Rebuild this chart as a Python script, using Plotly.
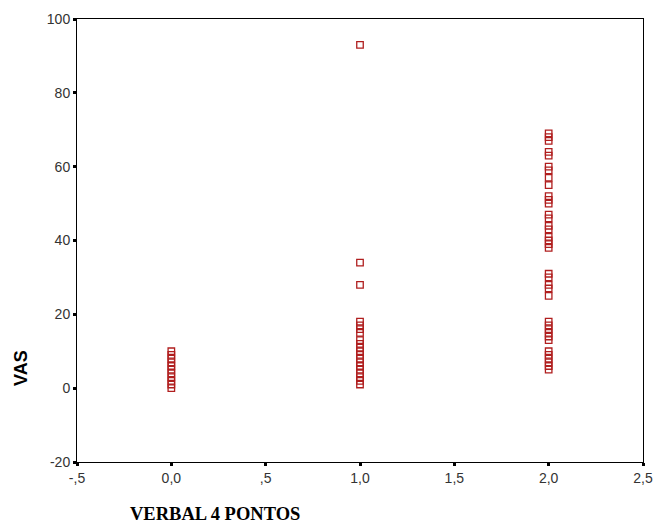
import plotly.graph_objects as go

# Data
x0_vals = [0.0] * 11
y0_vals = [0, 1, 2, 3, 4, 5, 6, 7, 8, 9, 10]

y1_vals = [93, 34, 28, 18, 17, 16, 15, 13, 12, 11, 10, 9, 8, 7, 6, 5, 4, 3, 2, 1]
x1_vals = [1.0] * len(y1_vals)

y2_vals = [69, 68, 67, 64, 63, 60, 59, 57, 55, 52, 51, 50, 47, 46, 44, 43, 41, 40,
           39, 38, 31, 30, 28, 27, 25, 18, 17, 16, 15, 14, 13, 10, 9, 8, 7, 6, 5]
x2_vals = [2.0] * len(y2_vals)

x_tickvals = [-0.5, 0.0, 0.5, 1.0, 1.5, 2.0, 2.5]
x_ticktext = ["-,5", "0,0", ",5", "1,0", "1,5", "2,0", "2,5"]
y_tickvals = [-20, 0, 20, 40, 60, 80, 100]
y_ticktext = ["-20", "0", "20", "40", "60", "80", "100"]

xs = x0_vals + x1_vals + x2_vals
ys = y0_vals + y1_vals + y2_vals

fig = go.Figure()
fig.add_trace(go.Scatter(
    x=xs, y=ys, mode="markers",
    marker=dict(symbol="square-open", size=6.5, color="#b01e1e", line=dict(width=1.3, color="#b01e1e")),
    showlegend=False, hoverinfo="x+y",
))

axis_common = dict(
    showgrid=False, zeroline=False, showline=True, linecolor="black", linewidth=1,
    mirror=True, ticks="outside", ticklen=3, tickwidth=3, tickcolor="black",
    tickfont=dict(family="Liberation Sans, Arial, sans-serif", size=14, color="#333333"),
)

fig.update_layout(
    width=664, height=526,
    margin=dict(l=77, r=21, t=19, b=64),
    paper_bgcolor="white", plot_bgcolor="white",
    xaxis=dict(range=[-0.5, 2.5], tickvals=x_tickvals, ticktext=x_ticktext, **axis_common),
    yaxis=dict(range=[-20, 100], tickvals=y_tickvals, ticktext=y_ticktext, **axis_common),
    annotations=[
        dict(text="<b>VERBAL 4 PONTOS</b>", xref="paper", yref="paper",
             x=(128 - 77) / 566, y=-(514 - 462) / 443, xanchor="left", yanchor="middle",
             showarrow=False,
             font=dict(family="Liberation Serif, Times New Roman, serif", size=18.5, color="black")),
        dict(text="<b>VAS</b>", xref="paper", yref="paper", textangle=-90,
             x=-(77 - 21) / 566, y=(462 - 368) / 443, xanchor="center", yanchor="middle",
             showarrow=False,
             font=dict(family="Liberation Sans, Arial, sans-serif", size=18, color="black")),
    ],
)

fig.write_html("out.html", config={"displayModeBar": False},
               post_script="document.body.style.margin='0';document.body.style.overflow='hidden';")
